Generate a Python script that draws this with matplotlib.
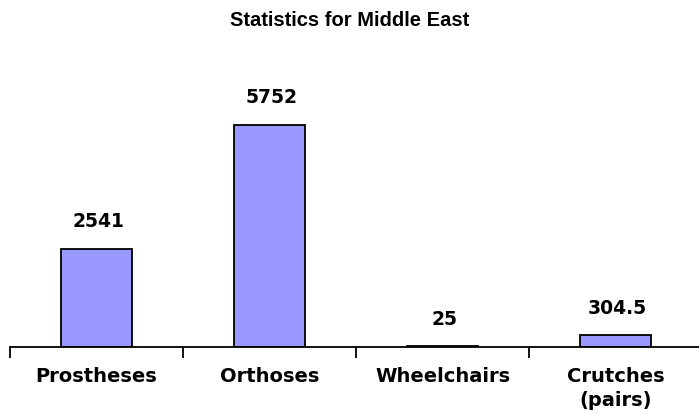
import matplotlib
matplotlib.use("Agg")
import matplotlib.pyplot as plt
import numpy as np

plt.rcParams['font.family'] = ['Liberation Sans', 'DejaVu Sans']

categories = ["Prostheses", "Orthoses", "Wheelchairs", "Crutches\n(pairs)"]
values = [2541, 5752, 25, 304.5]
value_labels = ["2541", "5752", "25", "304.5"]

W, H, DPI = 699, 417, 100
fig = plt.figure(figsize=(W / DPI, H / DPI), dpi=DPI)

left_px, right_px = 10, 702
bottom_px, top_px = 347, 57
ax = fig.add_axes([left_px / W, (H - bottom_px) / H,
                   (right_px - left_px) / W, (bottom_px - top_px) / H])

x = np.arange(len(categories))
ax.bar(x, values, width=0.405, color="#9999FF", edgecolor="black", linewidth=1.3)

label_font = dict(family="DejaVu Sans", fontweight="bold")

for xi, v, lab in zip(x, values, value_labels):
    ax.annotate(lab, (xi + 0.01, v), xytext=(0, 15.5), textcoords="offset points",
                ha="center", va="baseline", fontsize=13.5, **label_font)

ax.set_xlim(-0.5, len(categories) - 0.5)
ax.set_ylim(0, 7500)

for s in ["top", "right", "left"]:
    ax.spines[s].set_visible(False)
ax.spines["bottom"].set_linewidth(1.3)
ax.set_yticks([])

ax.set_xticks(x)
ax.set_xticklabels(categories, fontsize=14, linespacing=1.3, **label_font)
ax.tick_params(axis="x", which="major", length=0, pad=14.5)
ax.set_xticks(np.arange(-0.5, len(categories) - 0.5, 1.0), minor=True)
ax.tick_params(axis="x", which="minor", length=8, width=1.3, direction="out")

fig.text(0.5, 1 - 20 / H, "Statistics for Middle East", ha="center", va="center",
         fontsize=14.5, fontweight="bold")

fig.savefig("out.png", dpi=DPI)
